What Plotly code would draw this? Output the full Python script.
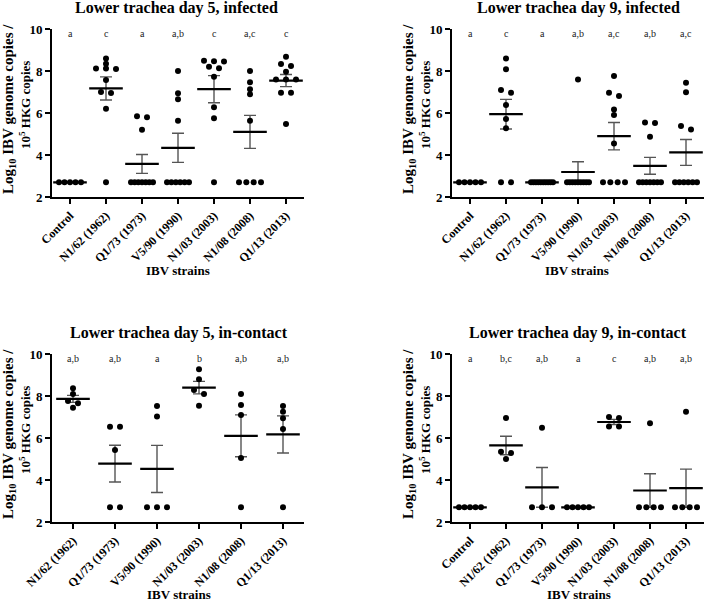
import numpy as np
import plotly.graph_objects as go

W, H = 705, 601

strains7 = ["Control", "N1/62 (1962)", "Q1/73 (1973)", "V5/90 (1990)",
            "N1/03 (2003)", "N1/08 (2008)", "Q1/13 (2013)"]
strains6 = strains7[1:]

# Log10 IBV genome copies / 10^5 HKG copies (2.7 = detection limit)
d5_infected = [
    [2.7, 2.7, 2.7, 2.7, 2.7],
    [8.6, 8.35, 8.12, 8.12, 8.1, 7.57, 7.0, 6.95, 6.2, 2.7],
    [5.85, 5.8, 5.2, 2.7, 2.7, 2.7, 2.7, 2.7, 2.7, 2.7],
    [8.0, 6.94, 6.65, 5.63, 2.7, 2.7, 2.7, 2.7, 2.7, 2.7],
    [8.49, 8.47, 8.45, 8.2, 8.13, 7.73, 6.27, 5.75, 2.7],
    [8.0, 7.46, 7.13, 6.89, 5.63, 2.7, 2.7, 2.7, 2.7],
    [8.68, 8.33, 8.24, 7.97, 7.6, 7.6, 7.6, 6.97, 6.97, 5.48],
]
d5_infected_letters = ["a", "c", "a", "a,b", "c", "a,c", "c"]

d9_infected = [
    [2.7, 2.7, 2.7, 2.7, 2.7],
    [8.6, 8.08, 7.1, 6.97, 6.38, 5.71, 5.27, 2.7, 2.7],
    [2.7, 2.7, 2.7, 2.7, 2.7, 2.7, 2.7, 2.7, 2.7, 2.7],
    [7.6, 2.7, 2.7, 2.7, 2.7, 2.7, 2.7, 2.7, 2.7, 2.7],
    [7.76, 6.97, 6.81, 6.17, 5.9, 4.55, 2.7, 2.7, 2.7, 2.7],
    [5.55, 5.52, 4.87, 2.7, 2.7, 2.7, 2.7, 2.7, 2.7, 2.7],
    [7.44, 6.99, 5.38, 5.22, 2.7, 2.7, 2.7, 2.7, 2.7, 2.7],
]
d9_infected_letters = ["a", "c", "a", "a,b", "a,c", "a,b", "a,c"]

d5_contact = [
    [8.37, 8.1, 7.76, 7.65, 7.44],
    [6.54, 6.54, 5.43, 2.7, 2.7],
    [7.52, 7.02, 2.7, 2.7, 2.7],
    [9.27, 8.8, 8.29, 8.1, 7.54],
    [8.1, 7.57, 7.1, 5.05, 2.7],
    [7.52, 7.25, 6.94, 6.43, 2.7],
]
d5_contact_letters = ["a,b", "a,b", "a", "b", "a,b", "a,b"]

d9_contact = [
    [2.7, 2.7, 2.7, 2.7, 2.7],
    [6.95, 5.35, 5.28, 5.0],
    [6.49, 2.7, 2.7, 2.7],
    [2.7, 2.7, 2.7, 2.7, 2.7],
    [7.0, 6.95, 6.55, 6.55],
    [6.7, 2.7, 2.7, 2.7, 2.7],
    [7.25, 2.7, 2.7, 2.7, 2.7],
]
d9_contact_letters = ["a", "b,c", "a,b", "a", "c", "a,b", "a,b"]

titles = ["Lower trachea day 5, infected", "Lower trachea day 9, infected",
          "Lower trachea day 5, in-contact", "Lower trachea day 9, in-contact"]

FONT = "Liberation Serif, Times New Roman, serif"

panels = [
    dict(data=d5_infected, cats=strains7, letters=d5_infected_letters, x0=52, y0=29, title_xy=(177, 8), xt=(178, 270)),
    dict(data=d9_infected, cats=strains7, letters=d9_infected_letters, x0=452, y0=29, title_xy=(578, 8), xt=(577, 270)),
    dict(data=d5_contact, cats=strains6, letters=d5_contact_letters, x0=52, y0=354, title_xy=(179, 333), xt=(179, 594)),
    dict(data=d9_contact, cats=strains7, letters=d9_contact_letters, x0=452, y0=354, title_xy=(578, 333), xt=(579, 594)),
]
PW, PH = 252, 168


def px(x):
    return x / W


def py(y):
    return 1 - y / H


def jitter(vals, px_per_cat):
    order = sorted(range(len(vals)), key=lambda i: -vals[i])
    rows = []
    for i in order:
        if rows and abs(vals[rows[-1][0]] - vals[i]) <= 0.2:
            rows[-1].append(i)
        else:
            rows.append([i])
    offs = [0.0] * len(vals)
    for r in rows:
        k = len(r)
        if k > 1:
            sp = min(10.0, 22.0 / (k - 1))
            for j, i in enumerate(r):
                offs[i] = (j - (k - 1) / 2) * sp / px_per_cat
    return offs


fig = go.Figure()
annotations = []
layout = {}

for p_i, p in enumerate(panels, start=1):
    xa = "x" if p_i == 1 else f"x{p_i}"
    ya = "y" if p_i == 1 else f"y{p_i}"
    n = len(p["cats"])
    ppc = PW / n
    for c_i, vals in enumerate(p["data"]):
        v = np.array(vals, dtype=float)
        mean = v.mean()
        sem = v.std(ddof=1) / np.sqrt(len(v))
        fig.add_trace(go.Scatter(
            x=[c_i], y=[mean], xaxis=xa, yaxis=ya, mode="markers",
            marker=dict(symbol="line-ew", size=24, line=dict(width=2.2, color="black")),
            error_y=dict(type="data", array=[sem], visible=True, color="#555555",
                         thickness=1.4, width=6),
            showlegend=False, hoverinfo="skip"))
        offs = jitter(vals, ppc)
        fig.add_trace(go.Scatter(
            x=[c_i + o for o in offs], y=vals, xaxis=xa, yaxis=ya, mode="markers",
            marker=dict(size=6, color="black"), showlegend=False, hoverinfo="skip"))
        annotations.append(dict(
            x=c_i, y=9.78, xref=xa, yref=ya, text=p["letters"][c_i], showarrow=False,
            font=dict(family=FONT, size=10, color="#222222"), xanchor="center", yanchor="middle"))

    x0, y0 = p["x0"], p["y0"]
    xkey = "xaxis" if p_i == 1 else f"xaxis{p_i}"
    ykey = "yaxis" if p_i == 1 else f"yaxis{p_i}"
    layout[xkey] = dict(
        domain=[px(x0), px(x0 + PW)], anchor=ya, range=[-0.5, n - 0.5],
        tickvals=list(range(n)), ticktext=p["cats"], tickangle=-45, automargin=False,
        showline=True, linewidth=2, linecolor="black", ticks="outside", ticklen=5,
        tickwidth=2, tickcolor="black", showgrid=False, zeroline=False,
        tickfont=dict(family=FONT, size=12, color="black", weight="bold"))
    layout[ykey] = dict(
        domain=[py(y0 + PH), py(y0)], anchor=xa, range=[2, 10], automargin=False,
        tickvals=[2, 4, 6, 8, 10], showline=True, linewidth=2, linecolor="black",
        ticks="outside", ticklen=5, tickwidth=2, tickcolor="black",
        showgrid=False, zeroline=False,
        tickfont=dict(family=FONT, size=13, color="black", weight="bold"))

    tx, ty = p["title_xy"]
    annotations.append(dict(x=px(tx), y=py(ty), xref="paper", yref="paper",
                            text=titles[p_i - 1], showarrow=False,
                            font=dict(family=FONT, size=16, color="black", weight="bold"),
                            xanchor="center", yanchor="middle"))
    xtx, xty = p["xt"]
    annotations.append(dict(x=px(xtx), y=py(xty), xref="paper", yref="paper",
                            text="IBV strains", showarrow=False,
                            font=dict(family=FONT, size=13, color="black", weight="bold"),
                            xanchor="center", yanchor="middle"))
    yc = y0 + PH / 2
    annotations.append(dict(x=px(x0 - 43), y=py(yc - 4), xref="paper", yref="paper",
                            text="Log<sub>10</sub> IBV genome copies /", showarrow=False,
                            textangle=-90,
                            font=dict(family=FONT, size=15, color="black", weight="bold"),
                            xanchor="center", yanchor="middle"))
    annotations.append(dict(x=px(x0 - 27), y=py(yc - 8), xref="paper", yref="paper",
                            text="10<sup>5</sup> HKG copies", showarrow=False,
                            textangle=-90,
                            font=dict(family=FONT, size=13, color="black", weight="bold"),
                            xanchor="center", yanchor="middle"))

fig.update_layout(
    template="none",
    width=W, height=H, margin=dict(l=0, r=0, t=0, b=0),
    paper_bgcolor="white", plot_bgcolor="white",
    annotations=annotations, **layout)

fig.write_html("out.html")
